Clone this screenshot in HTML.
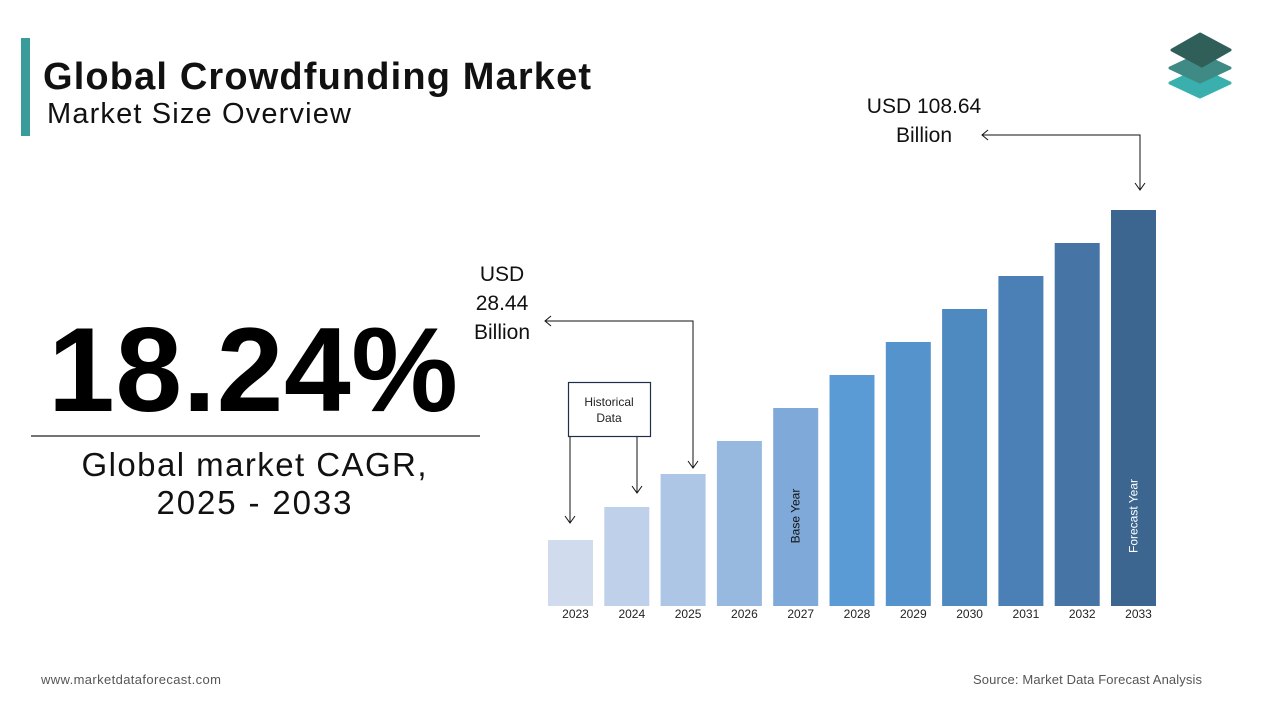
<!DOCTYPE html>
<html><head><meta charset="utf-8"><style>
body{margin:0;background:#fff;}
#wrap{position:relative;width:1267px;height:713px;overflow:hidden;font-family:"Liberation Sans",sans-serif;}
</style></head><body>
<div id="wrap">
<svg id="chart" width="1267" height="713" style="position:absolute;left:0;top:0">
  <rect x="21" y="38" width="9" height="98" fill="#3a9c9a"/>
  <text x="43" y="89" font-size="38" font-weight="bold" fill="#111" textLength="548">Global Crowdfunding Market</text>
  <text x="47" y="123" font-size="29" fill="#111" textLength="304">Market Size Overview</text>
  <g>
    <polygon points="1170,83 1200,69 1230,83 1200,97" fill="#3ab0ae" stroke="#3ab0ae" stroke-width="3" stroke-linejoin="round"/>
    <polygon points="1170,68 1200,54 1230,68 1200,82" fill="#3f8a84" stroke="#3f8a84" stroke-width="3" stroke-linejoin="round"/>
    <polygon points="1172,50 1200,34 1230,50 1202,66" fill="#2f5f58" stroke="#2f5f58" stroke-width="3" stroke-linejoin="round"/>
  </g>
  <text x="48" y="411" font-size="120" font-weight="bold" fill="#000" textLength="410">18.24%</text>
  <line x1="31" y1="436" x2="480" y2="436" stroke="#222" stroke-width="1.2"/>
  <text x="254" y="476" font-size="33" fill="#111" text-anchor="middle" textLength="345">Global market CAGR,</text>
  <text x="254" y="514" font-size="33" fill="#111" text-anchor="middle" textLength="195">2025 - 2033</text>
  <g id="bars"></g>
  <g>
    <rect x="568.5" y="382.5" width="82" height="54" fill="#fff" stroke="#1f2f4a" stroke-width="1.2"/>
    <text x="609" y="406" font-size="12" text-anchor="middle" fill="#222">Historical</text>
    <text x="609" y="422" font-size="12" text-anchor="middle" fill="#222">Data</text>
    <line x1="570" y1="437" x2="570" y2="523" stroke="#111"/>
    <polyline points="565,516 570,523 575,516" fill="none" stroke="#111"/>
    <line x1="637" y1="437" x2="637" y2="493" stroke="#111"/>
    <polyline points="632,486 637,493 642,486" fill="none" stroke="#111"/>
  </g>
  <g>
    <text x="502" y="281" font-size="21" text-anchor="middle" fill="#111">USD</text>
    <text x="502" y="310" font-size="21" text-anchor="middle" fill="#111">28.44</text>
    <text x="502" y="339" font-size="21" text-anchor="middle" fill="#111">Billion</text>
    <polyline points="545,321 693,321 693,468" fill="none" stroke="#111"/>
    <polyline points="551,316 545,321 551,326" fill="none" stroke="#111"/>
    <polyline points="688,461 693,468 698,461" fill="none" stroke="#111"/>
  </g>
  <g>
    <text x="924" y="113" font-size="21" text-anchor="middle" fill="#111">USD 108.64</text>
    <text x="924" y="142" font-size="21" text-anchor="middle" fill="#111">Billion</text>
    <polyline points="982,135 1140,135 1140,190" fill="none" stroke="#111"/>
    <polyline points="988,130 982,135 988,140" fill="none" stroke="#111"/>
    <polyline points="1135,183 1140,190 1145,183" fill="none" stroke="#111"/>
  </g>
  <text x="41" y="684" font-size="13" fill="#555" textLength="180">www.marketdataforecast.com</text>
  <text x="1202" y="684" font-size="13" fill="#555" text-anchor="end" textLength="229">Source: Market Data Forecast Analysis</text>
</svg>
</div>
<script>
const years = ["2023","2024","2025","2026","2027","2028","2029","2030","2031","2032","2033"];
const values = [2,3,4,5,6,7,8,9,10,11,12];
const colors = ["#d0dcee","#bed0ea","#adc6e6","#98b9df","#7ea9d8","#5b9bd5","#5593cc","#4e89c0","#4a80b5","#4574a5","#3c6690"];
const barLabels = {"2027":"Base Year","2033":"Forecast Year"};
const baseY = 606, x0 = 548, step = 56.3, bw = 45, pxPerUnit = 33;
function xPos(i){return x0 + i*step;}
function yPos(v){return baseY - v*pxPerUnit;}
const g = document.getElementById('bars');
const NS = "http://www.w3.org/2000/svg";
years.forEach((yr,i)=>{
  const r = document.createElementNS(NS,'rect');
  
  
  const y = yPos(values[i]);
  r.setAttribute('x', xPos(i)); r.setAttribute('y', y);
  r.setAttribute('width', bw); r.setAttribute('height', baseY - y);
  r.setAttribute('fill', colors[i]);
  g.appendChild(r);
  const t = document.createElementNS(NS,'text');
  
  
  t.setAttribute('x', xPos(i)+bw/2+5); t.setAttribute('y', 618);
  t.setAttribute('font-size','12'); t.setAttribute('text-anchor','middle'); t.setAttribute('fill','#222');
  t.textContent = yr; g.appendChild(t);
  if(barLabels[yr]){
    const l = document.createElementNS(NS,'text');
    
    
    const cx = xPos(i)+bw/2+4, cy = 516;
    l.setAttribute('transform','translate('+cx+','+cy+') rotate(-90)');
    l.setAttribute('font-size','12'); l.setAttribute('text-anchor','middle');
    l.setAttribute('fill', yr==="2033" ? '#fff' : '#111');
    l.textContent = barLabels[yr]; g.appendChild(l);
  }
});
</script>
</body></html>
